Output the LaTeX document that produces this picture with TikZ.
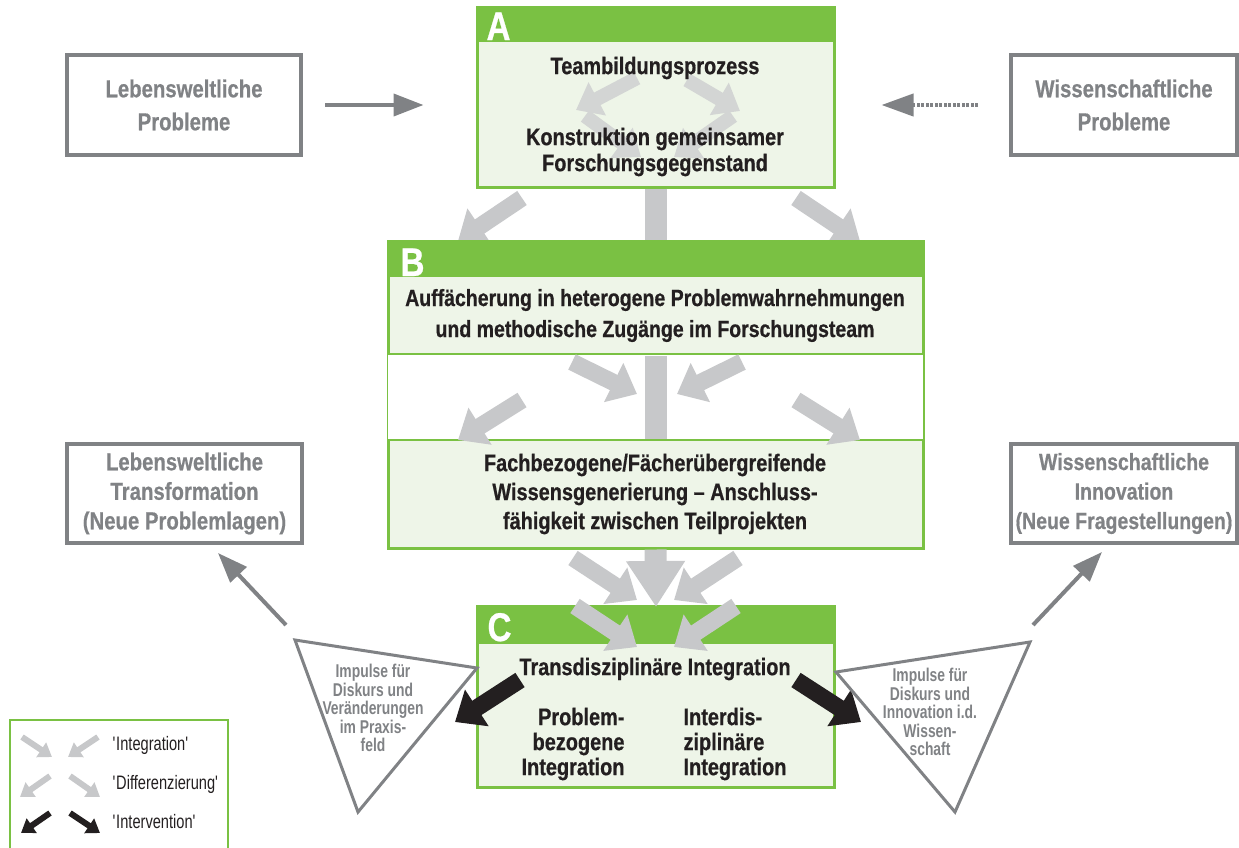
\documentclass[tikz,border=0pt]{standalone}
\usepackage{fontspec}
\setmainfont{Liberation Sans}[FakeStretch=0.83,BoldFeatures={FakeBold=0.6}]
\newfontfamily\narrowfont{Liberation Sans}[FakeStretch=0.75]
\usetikzlibrary{arrows.meta,calc,positioning}

\definecolor{igreen}{HTML}{7AC143}
\definecolor{ipale}{HTML}{EEF5E8}
\definecolor{iarrow}{HTML}{C7C8CA}
\definecolor{icycle}{HTML}{D3D5D4}
\definecolor{igray}{HTML}{808285}
\definecolor{iblack}{HTML}{231F20}

\tikzset{
  fat/.style={iarrow,line width=17pt,-{Triangle[length=26pt,width=42pt]}},
  turn/.style={icycle,line width=14pt,-{Triangle[length=24pt,width=36pt]}},
  push/.style={iblack,line width=17pt,-{Triangle[length=26pt,width=42pt]}},
  stem/.style={iarrow,line width=22pt},
  mini/.style={line width=6pt,-{Triangle[length=13pt,width=17pt]}},
  greyline/.style={igray,line width=4pt,-{Triangle[length=30pt,width=22pt]}},
  panel/.style={draw=igreen,line width=3pt,fill=ipale},
  outbox/.style={draw=igray,line width=4pt,text=igray,align=center,
    font=\fontsize{24.5}{33}\selectfont\bfseries},
  body/.style={text=iblack,align=center,font=\fontsize{24}{29}\selectfont\bfseries},
  letter/.style={text=white,anchor=base west,font=\fontsize{40}{40}\selectfont\bfseries},
  impulse/.style={text=igray,align=center,font=\narrowfont\fontsize{18.5}{18.5}\selectfont\bfseries},
  legtext/.style={text=iblack,anchor=west,font=\narrowfont\fontsize{19.5}{19.5}\selectfont},
}

\begin{document}
\begin{tikzpicture}[x=1pt,y=-1pt]
\useasboundingbox (0,0) rectangle (1239,847);

% outer problem and result boxes
\node[outbox,minimum width=234pt,minimum height=100pt] (LP) at (184,105) {Lebensweltliche\\Probleme};
\node[outbox,minimum width=226pt,minimum height=100pt] (WP) at (1124,105) {Wissenschaftliche\\Probleme};
\node[outbox,minimum width=235pt,minimum height=99pt,font=\fontsize{24.5}{29.5}\selectfont\bfseries] (LT) at (184.5,493.5) {Lebensweltliche\\Transformation\\(Neue Problemlagen)};
\node[outbox,minimum width=226pt,minimum height=99pt,font=\fontsize{23.5}{29.5}\selectfont\bfseries] (WI) at (1124,493.5) {Wissenschaftliche\\Innovation\\(Neue Fragestellungen)};

% box A
\node[panel,minimum width=357pt,minimum height=180pt] (A) at (655.5,97) {};
\fill[igreen] (A.north west) rectangle ($(A.north east)+(0,36)$);
\node[letter] (Alet) at (483,40) {A};
\foreach \xa/\ya/\xb/\yb in {637/78/576/110, 687/80/740/111, 585/116/641/157, 733/116/674/157}
  \draw[turn] (\xa,\ya) -- (\xb,\yb);
\node[body] (Ateam) at (655,68) {Teambildungsprozess};
\node[body,font=\fontsize{24}{26}\selectfont\bfseries] (Akon) at (655,152) {Konstruktion gemeinsamer\\Forschungsgegenstand};

% stems and arrows A -> B
\draw[stem] (A.south) -- (655.5,241);
\draw[fat] (522,198) -- (458,241);
\draw[fat] (796,198) -- (860,241);

% box B
\node[panel,minimum width=535pt,minimum height=307pt] (B) at (655.5,394.5) {};
\fill[igreen] (B.north west) rectangle ($(B.north east)+(0,37)$);
\fill[white] (388,354) rectangle (923,440);
\draw[igreen,line width=2pt] (388,354) -- (923,354) (388,440) -- (923,440);
\node[letter] (Blet) at (397,276) {B};
\draw[stem] (656,356) -- (656,439);
\draw[fat] (572,362) -- (637,394);
\draw[fat] (742,362) -- (677,394);
\draw[fat] (522,400) -- (458,440);
\draw[fat] (796,400) -- (860,440);
\node[body,font=\fontsize{23.5}{31}\selectfont\bfseries] (Bfan) at (655,315.5) {Auffächerung in heterogene Problemwahrnehmungen\\und methodische Zugänge im Forschungsteam};
\node[body] (Bgen) at (655,494) {Fachbezogene/Fächerübergreifende\\Wissensgenerierung -- Anschluss-\\fähigkeit zwischen Teilprojekten};

% box C
\node[panel,minimum width=357pt,minimum height=181pt] (C) at (655.5,696.5) {};
\fill[igreen] (C.north west) rectangle ($(C.north east)+(0,39)$);
\node[letter] (Clet) at (484,641) {C};
\draw[iarrow,line width=22pt,-{Triangle[length=46pt,width=56pt]}] (B.south) -- (656,607);
\draw[fat] (573,558) -- (637,600);
\draw[fat] (738,558) -- (674,600);
\draw[fat] (575,606) -- (637,647);
\draw[fat] (736,606) -- (674,647);
\node[body] (Ctrans) at (655,669) {Transdisziplinäre Integration};
\node[body,align=right,anchor=east,font=\fontsize{24}{25}\selectfont\bfseries] (Cprob) at (628,744) {Problem-\\bezogene\\Integration};
\node[body,align=left,anchor=west,font=\fontsize{24}{25}\selectfont\bfseries] (Cinter) at (680,744) {Interdis-\\ziplinäre\\Integration};
\draw[push] (520,680) -- (455,722);
\draw[push] (796,680) -- (861,722);

% inputs
\draw[greyline,shorten <=22pt,shorten >=52pt] (LP.east) -- (LP.east -| A.west);
\draw[igray,line width=4pt,dash pattern=on 3pt off 1.5pt,-{Triangle[length=32pt,width=22pt]},shorten <=31pt,shorten >=46pt] (WP.west) -- (WP.west -| A.east);

% impulse triangles
\coordinate (L1) at (295,640);
\coordinate (L2) at (477,668);
\coordinate (L3) at (358,812);
\coordinate (R1) at (836,672);
\coordinate (R2) at (1030,642);
\coordinate (R3) at (955,812);
\draw[igray,line width=3pt] (L1) -- (L2) -- (L3) -- cycle;
\draw[igray,line width=3pt] (R1) -- (R2) -- (R3) -- cycle;
\node[impulse] (Limp) at (373,708) {Impulse für\\Diskurs und\\Veränderungen\\im Praxis-\\feld};
\node[impulse] (Rimp) at (930,712) {Impulse für\\Diskurs und\\Innovation i.d.\\Wissen-\\schaft};
\coordinate (Ltail) at (286,625);
\coordinate (Rtail) at (1033,625);
\draw[greyline] (Ltail) -- (218,553);
\draw[greyline] (Rtail) -- (1102,552);

% legend
\draw[igreen,line width=2.5pt] (10,720) rectangle (228,870);
\draw[mini,iarrow] (22,737) -- (52,757);
\draw[mini,iarrow] (98,737) -- (68,757);
\draw[mini,iarrow] (50,776) -- (20,797);
\draw[mini,iarrow] (70,776) -- (100,797);
\draw[mini,iblack] (50,813) -- (21,833);
\draw[mini,iblack] (70,813) -- (100,833);
\node[legtext] (Lint) at (109,745) {\textquotesingle Integration\textquotesingle};
\node[legtext] (Ldif) at (109,784) {\textquotesingle Differenzierung\textquotesingle};
\node[legtext] (Lpush) at (109,822) {\textquotesingle Intervention\textquotesingle};
\end{tikzpicture}
\end{document}
